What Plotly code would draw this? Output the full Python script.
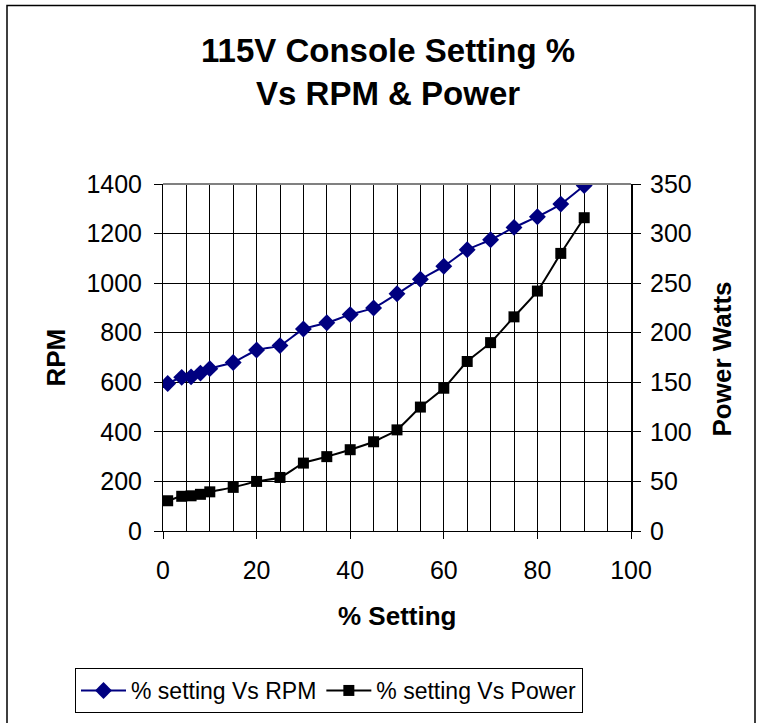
import plotly.graph_objects as go

setting = [1, 4, 6, 8, 10, 15, 20, 25, 30, 35, 40, 45, 50, 55, 60, 65, 70, 75, 80, 85, 90]
rpm = [595, 620, 622, 637, 655, 680, 730, 748, 815, 840, 873, 900, 957, 1016, 1068, 1135, 1175, 1225, 1268, 1319, 1394]
power = [30.5, 35, 35.5, 37, 39.5, 44, 50, 54, 68.5, 75, 82, 90, 102, 125, 144, 171, 190, 216, 242, 280, 316]

FONT = "Liberation Sans, Arial, sans-serif"

# plot area in pixels: x 163..631, y 184..532
L, R, T, B = 163, 631, 184, 532
W, H = 760, 723
PW, PH = R - L, B - T

def px(x):
    return (x - L) / PW

def py(y):
    return (B - y) / PH

fig = go.Figure()
fig.add_trace(go.Scatter(
    x=setting, y=rpm, name="% setting Vs RPM", mode="lines+markers",
    line=dict(color="#000080", width=2, shape="spline", smoothing=0.5),
    marker=dict(symbol="diamond", size=13, color="#000080"),
))
fig.add_trace(go.Scatter(
    x=setting, y=power, name="% setting Vs Power", mode="lines+markers", yaxis="y2",
    line=dict(color="#000000", width=2, shape="spline", smoothing=0.5),
    marker=dict(symbol="square", size=11, color="#000000"),
))

TICK = 25

fig.update_layout(
    width=W, height=H,
    margin=dict(l=L, r=W - R, t=T, b=H - B, pad=0),
    paper_bgcolor="white", plot_bgcolor="white",
    font=dict(family=FONT, color="black", size=23),
    showlegend=True,
    legend=dict(
        orientation="h", x=px(75), y=py(668), xanchor="left", yanchor="top",
        bordercolor="black", borderwidth=1, font=dict(size=23, family=FONT),
        itemwidth=45, tracegroupgap=0,
    ),
    xaxis=dict(
        range=[0, 100], tickmode="linear", tick0=0, dtick=20,
        showgrid=True, gridcolor="black", gridwidth=1,
        minor=dict(dtick=5, showgrid=True, gridcolor="black", gridwidth=1, ticks=""),
        ticks="outside", ticklen=7, tickcolor="black", ticklabelstandoff=10,
        showline=True, linecolor="black", linewidth=1,
        tickfont=dict(size=TICK), zeroline=False,
    ),
    yaxis=dict(
        range=[0, 1400], tickmode="linear", tick0=0, dtick=200,
        showgrid=True, gridcolor="black", gridwidth=1,
        ticks="outside", ticklen=8, tickcolor="black", ticklabelstandoff=7,
        showline=True, linecolor="black", linewidth=1,
        tickfont=dict(size=TICK), zeroline=False,
    ),
    yaxis2=dict(
        range=[0, 350], tickmode="linear", tick0=0, dtick=50,
        overlaying="y", side="right", showgrid=False,
        ticks="outside", ticklen=8, tickcolor="black", ticklabelstandoff=4,
        showline=True, linecolor="black", linewidth=2,
        tickfont=dict(size=TICK), zeroline=False,
    ),
    shapes=[
        dict(type="rect", xref="paper", yref="paper",
             x0=px(7), x1=px(755), y0=py(740), y1=py(5),
             line=dict(color="black", width=1.5), fillcolor="rgba(0,0,0,0)", layer="below"),
        dict(type="line", xref="paper", yref="paper", x0=0, x1=1, y0=1, y1=1,
             line=dict(color="#808080", width=2)),
    ],
    annotations=[
        dict(text="<b>115V Console Setting %<br>Vs RPM & Power</b>", xref="paper", yref="paper",
             x=px(388), y=py(72), xanchor="center", yanchor="middle", showarrow=False,
             font=dict(size=33, family=FONT)),
        dict(text="<b>RPM</b>", xref="paper", yref="paper", x=px(55), y=py(358),
             xanchor="center", yanchor="middle", textangle=-90, showarrow=False,
             font=dict(size=26, family=FONT)),
        dict(text="<b>Power Watts</b>", xref="paper", yref="paper", x=px(722), y=py(360),
             xanchor="center", yanchor="middle", textangle=-90, showarrow=False,
             font=dict(size=26, family=FONT)),
        dict(text="<b>% Setting</b>", xref="paper", yref="paper", x=px(397), y=py(617),
             xanchor="center", yanchor="middle", showarrow=False,
             font=dict(size=26, family=FONT)),
    ],
)

fig.write_html("out.html", config={"displayModeBar": False},
               post_script="document.body.style.margin='0';")
